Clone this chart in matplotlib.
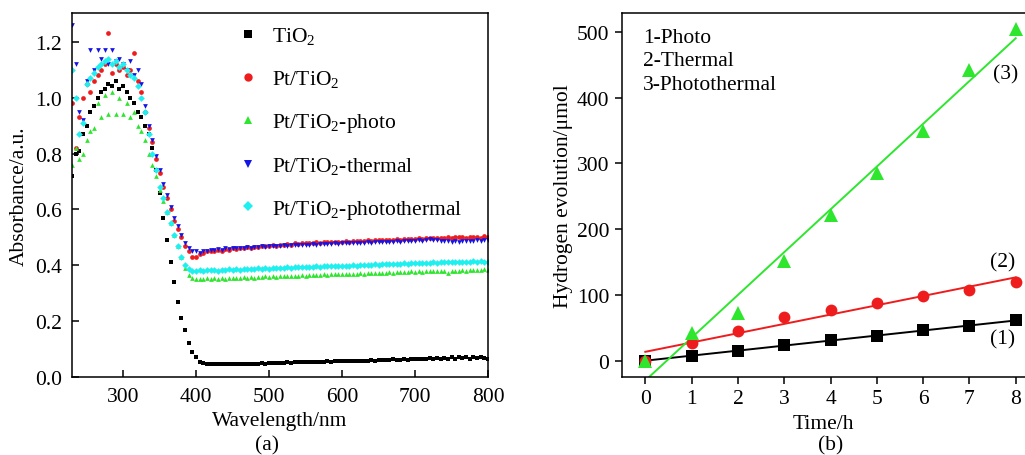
import numpy as np
import matplotlib
matplotlib.use("Agg")
import matplotlib.pyplot as plt
from matplotlib.lines import Line2D

plt.rcParams['font.family'] = ['Liberation Serif', 'DejaVu Serif']
plt.rcParams['mathtext.fontset'] = 'custom'
plt.rcParams['mathtext.rm'] = 'Liberation Serif'

# ---------------- Panel (a) data ----------------
wavelength = np.arange(230, 801, 5)

tio2 = [
    0.72, 0.80, 0.81, 0.87, 0.90, 0.95, 0.97, 1.00, 1.02, 1.03, 1.05, 1.04, 1.06, 1.03, 1.04, 1.02, 1.00, 0.98, 0.95, 0.93,
    0.90, 0.87, 0.82, 0.74, 0.66, 0.57, 0.49, 0.41, 0.34, 0.27, 0.21, 0.17, 0.12, 0.09, 0.07, 0.055, 0.05, 0.048, 0.047,
    0.047, 0.046, 0.048, 0.046, 0.047, 0.045, 0.047, 0.046, 0.048, 0.047, 0.046, 0.048, 0.047, 0.049, 0.048, 0.049,
    0.050, 0.049, 0.051, 0.050, 0.052, 0.051, 0.052, 0.053, 0.052, 0.054, 0.053, 0.054, 0.055, 0.054, 0.055, 0.056, 0.055, 0.056, 0.057, 0.056,
    0.057, 0.056, 0.058, 0.057, 0.058, 0.059, 0.058, 0.060, 0.059, 0.061, 0.060, 0.062, 0.061, 0.063, 0.062, 0.060, 0.063, 0.062, 0.064, 0.063,
    0.064, 0.066, 0.063, 0.067, 0.065, 0.068, 0.064, 0.069, 0.066, 0.070, 0.065, 0.071, 0.067, 0.072, 0.066, 0.070, 0.068, 0.073, 0.067, 0.065,
]

pt_tio2 = [
    0.98, 0.82, 0.93, 1.00, 1.05, 1.02, 1.06, 1.08, 1.10, 1.12, 1.23, 1.09, 1.12, 1.10, 1.11, 1.08, 1.10, 1.16, 1.06, 1.02,
    0.95, 0.89, 0.84, 0.78, 0.73, 0.68, 0.64, 0.60, 0.56, 0.53, 0.50, 0.47, 0.45, 0.43, 0.43, 0.44, 0.445, 0.45, 0.45,
    0.452, 0.455, 0.450, 0.458, 0.455, 0.460, 0.458, 0.462, 0.460, 0.465, 0.463, 0.467, 0.465, 0.470, 0.468, 0.470,
    0.472, 0.470, 0.474, 0.473, 0.476, 0.474, 0.478, 0.476, 0.479, 0.478, 0.481, 0.479, 0.482, 0.480, 0.483, 0.482, 0.484, 0.483, 0.485, 0.484,
    0.486, 0.485, 0.487, 0.486, 0.488, 0.487, 0.489, 0.488, 0.490, 0.489, 0.491, 0.490, 0.492, 0.491, 0.493, 0.492, 0.494, 0.493, 0.495, 0.494,
    0.496, 0.495, 0.497, 0.496, 0.498, 0.497, 0.499, 0.498, 0.500, 0.499, 0.501, 0.500, 0.502, 0.499, 0.501, 0.500, 0.502, 0.498, 0.503, 0.500,
]

pt_tio2_photo = [
    0.76, 0.82, 0.78, 0.80, 0.85, 0.88, 0.89, 0.98, 0.93, 1.01, 0.94, 1.02, 0.94, 1.00, 0.94, 0.98, 0.93, 0.95, 0.90, 0.88,
    0.85, 0.80, 0.76, 0.72, 0.67, 0.63, 0.59, 0.55, 0.51, 0.47, 0.43, 0.39, 0.365, 0.355, 0.35, 0.352, 0.350, 0.353, 0.352,
    0.353, 0.350, 0.354, 0.352, 0.355, 0.353, 0.356, 0.354, 0.357, 0.355, 0.358, 0.356, 0.359, 0.357, 0.360, 0.358,
    0.360, 0.359, 0.361, 0.360, 0.362, 0.361, 0.363, 0.362, 0.364, 0.363, 0.365, 0.364, 0.366, 0.365, 0.367, 0.366, 0.368, 0.367, 0.369, 0.368,
    0.369, 0.368, 0.370, 0.369, 0.371, 0.370, 0.372, 0.371, 0.373, 0.372, 0.374, 0.373, 0.375, 0.374, 0.376, 0.375, 0.377, 0.376, 0.378, 0.377,
    0.378, 0.377, 0.379, 0.378, 0.380, 0.379, 0.381, 0.380, 0.372, 0.379, 0.381, 0.380, 0.382, 0.381, 0.383, 0.382, 0.384, 0.383, 0.385, 0.384,
]

pt_tio2_thermal = [
    1.26, 1.12, 0.95, 0.92, 1.06, 1.17, 1.10, 1.17, 1.14, 1.17, 1.12, 1.17, 1.13, 1.14, 1.12, 1.10, 1.13, 1.08, 1.10, 1.05,
    0.97, 0.90, 0.85, 0.79, 0.74, 0.69, 0.65, 0.61, 0.57, 0.54, 0.51, 0.48, 0.46, 0.45, 0.45, 0.445, 0.45, 0.452, 0.455,
    0.455, 0.458, 0.455, 0.460, 0.458, 0.462, 0.460, 0.463, 0.462, 0.465, 0.463, 0.466, 0.465, 0.468, 0.466, 0.469,
    0.468, 0.470, 0.469, 0.471, 0.470, 0.472, 0.471, 0.473, 0.472, 0.474, 0.473, 0.475, 0.474, 0.476, 0.475, 0.477, 0.476, 0.478, 0.477, 0.478,
    0.479, 0.478, 0.480, 0.479, 0.481, 0.480, 0.482, 0.481, 0.483, 0.482, 0.484, 0.483, 0.485, 0.484, 0.486, 0.485, 0.487, 0.486, 0.488, 0.487,
    0.489, 0.488, 0.490, 0.495, 0.492, 0.490, 0.488, 0.487, 0.486, 0.485, 0.486, 0.485, 0.487, 0.486, 0.488, 0.487, 0.489, 0.488, 0.490, 0.489,
]

pt_tio2_photothermal = [
    1.10, 1.00, 0.87, 0.91, 1.05, 1.07, 1.09, 1.11, 1.12, 1.13, 1.14, 1.12, 1.13, 1.11, 1.12, 1.10, 1.08, 1.07, 1.04, 1.00,
    0.95, 0.87, 0.80, 0.74, 0.68, 0.64, 0.59, 0.55, 0.51, 0.47, 0.43, 0.40, 0.385, 0.38, 0.38, 0.382, 0.380, 0.383, 0.382,
    0.383, 0.381, 0.384, 0.382, 0.385, 0.383, 0.386, 0.384, 0.387, 0.385, 0.388, 0.386, 0.389, 0.387, 0.390, 0.388,
    0.390, 0.389, 0.391, 0.390, 0.392, 0.391, 0.393, 0.392, 0.394, 0.393, 0.395, 0.394, 0.396, 0.395, 0.397, 0.396, 0.398, 0.397, 0.399, 0.398,
    0.399, 0.398, 0.400, 0.399, 0.401, 0.400, 0.402, 0.401, 0.403, 0.402, 0.404, 0.403, 0.405, 0.404, 0.406, 0.405, 0.407, 0.406, 0.408, 0.407,
    0.408, 0.407, 0.409, 0.408, 0.410, 0.409, 0.411, 0.410, 0.412, 0.411, 0.413, 0.412, 0.411, 0.413, 0.412, 0.414, 0.413, 0.415, 0.410, 0.412,
]

spectra_labels = [r'TiO$_2$', r'Pt/TiO$_2$', r'Pt/TiO$_2$-photo',
                  r'Pt/TiO$_2$-thermal', r'Pt/TiO$_2$-photothermal']

# ---------------- Panel (b) data ----------------
time_h = [0, 1, 2, 3, 4, 5, 6, 7, 8]
h2_photo = [0, 7, 15, 23, 31, 38, 46, 53, 61]
h2_thermal = [0, 27, 45, 67, 77, 88, 98, 108, 120]
h2_photothermal = [0, 42, 73, 152, 222, 285, 350, 442, 505]
method_text = ['1-Photo', '2-Thermal', '3-Photothermal']
curve_tags = ['(1)', '(2)', '(3)']

c_black = '#000000'
c_red = '#ee1c1c'
c_green = '#2ee62e'
c_blue = '#1414e6'
c_cyan = '#1ef0f0'

fs = 15.5

fig = plt.figure(figsize=(10.25, 4.56), dpi=100)

# ---- (a) ----
axa = fig.add_axes([72/1025, 78/456, 416/1025, 364/456])
series = [
    (tio2, c_black, 's', spectra_labels[0]),
    (pt_tio2, c_red, 'o', spectra_labels[1]),
    (pt_tio2_photo, c_green, '^', spectra_labels[2]),
    (pt_tio2_thermal, c_blue, 'v', spectra_labels[3]),
    (pt_tio2_photothermal, c_cyan, 'D', spectra_labels[4]),
]
handles = []
for vals, col, mk, lab in series:
    axa.plot(wavelength, vals, linestyle='none', marker=mk, color=col,
             markersize=3.4, markeredgewidth=0, label=lab)
    handles.append(Line2D([], [], linestyle='none', marker=mk, color=col,
                          markersize=6 if mk != 'D' else 5, markeredgewidth=0))
axa.set_xlim(230, 800)
axa.set_ylim(0, 1.303)
axa.set_xticks([300, 400, 500, 600, 700, 800])
axa.set_yticks([0.0, 0.2, 0.4, 0.6, 0.8, 1.0, 1.2])
axa.set_yticklabels(['0.0', '0.2', '0.4', '0.6', '0.8', '1.0', '1.2'])
axa.tick_params(direction='in', length=5, width=1.1, labelsize=fs, pad=7)
for sp in axa.spines.values():
    sp.set_linewidth(1.1)
axa.set_xlabel('Wavelength/nm', fontsize=fs, labelpad=4)
axa.set_ylabel('Absorbance/a.u.', fontsize=fs, labelpad=5)
leg = axa.legend(handles, spectra_labels, loc='upper left',
                 bbox_to_anchor=(0.355, 1.018), frameon=False, fontsize=fs,
                 handlelength=0.8, handletextpad=0.75, labelspacing=0.98)

fig.text(267/1025, 10/456, '(a)', ha='center', va='center', fontsize=fs)

# ---- (b) ----
axb = fig.add_axes([621.7/1025, 78/456, 1 - 621.7/1025, 364/456])
tt = np.array(time_h, dtype=float)
for vals, col, mk, ms in [(h2_photo, c_black, 's', 8),
                          (h2_thermal, c_red, 'o', 8.5),
                          (h2_photothermal, c_green, '^', 9.5)]:
    k, b = np.polyfit(tt, np.array(vals, dtype=float), 1)
    axb.plot(tt, k * tt + b, color=col, linewidth=1.4, zorder=2)
for vals, col, mk, ms in [(h2_photo, c_black, 's', 8),
                          (h2_thermal, c_red, 'o', 8.5),
                          (h2_photothermal, c_green, '^', 9.5)]:
    axb.plot(tt, vals, linestyle='none', marker=mk, color=col,
             markersize=ms, markeredgewidth=0, zorder=3)
axb.set_xlim(-0.51, 8.2)
axb.set_ylim(-25, 529)
axb.set_xticks(time_h)
axb.set_yticks([0, 100, 200, 300, 400, 500])
axb.tick_params(direction='out', length=5, width=1.1, labelsize=fs, pad=4)
axb.spines['right'].set_visible(False)
for sp in axb.spines.values():
    sp.set_linewidth(1.1)
axb.set_xlabel('Time/h', fontsize=fs, labelpad=4)
axb.set_ylabel('Hydrogen evolution/\u03bcmol', fontsize=fs, labelpad=3)

for i, t in enumerate(method_text):
    axb.text(0.053, 0.934 - i * 0.0646, t, transform=axb.transAxes,
             fontsize=fs, ha='left', va='center')
axb.text(7.72, 33, curve_tags[0], fontsize=fs, ha='center', va='center')
axb.text(7.72, 150, curve_tags[1], fontsize=fs, ha='center', va='center')
axb.text(7.78, 437, curve_tags[2], fontsize=fs, ha='center', va='center')

fig.text(831/1025, 10/456, '(b)', ha='center', va='center', fontsize=fs)

fig.savefig('out.png', dpi=100)
